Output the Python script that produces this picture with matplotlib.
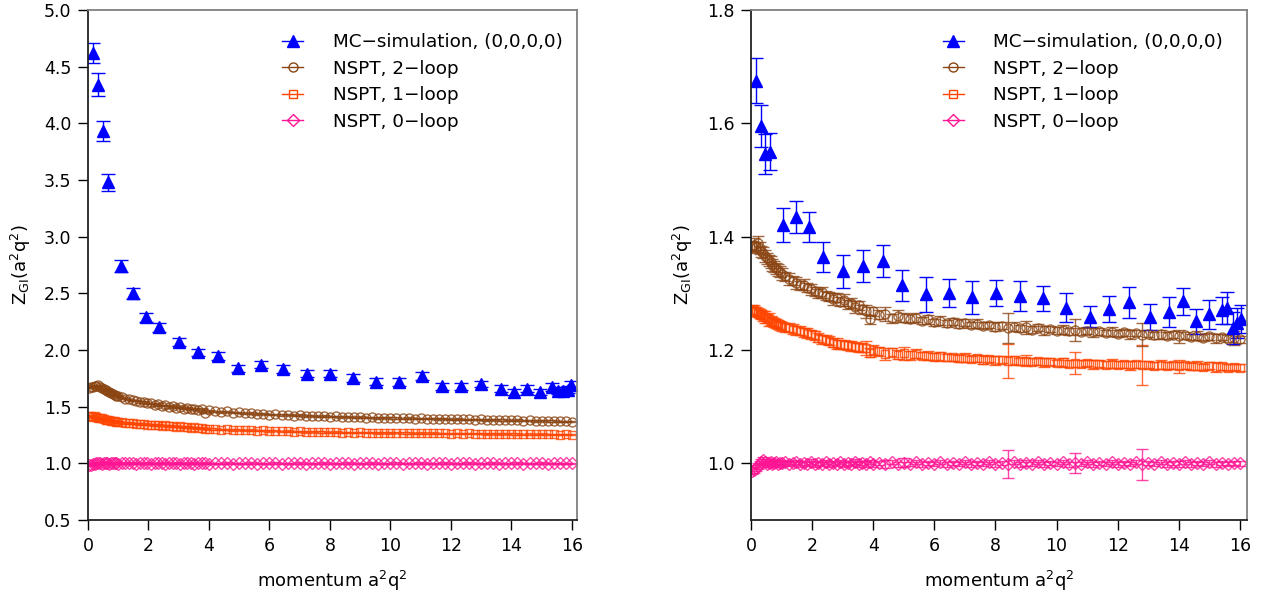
import matplotlib
matplotlib.use('Agg')
import matplotlib.pyplot as plt
from matplotlib.lines import Line2D

plt.rcParams['font.family'] = ['DejaVu Sans']
plt.rcParams['mathtext.fontset'] = 'dejavusans'
plt.rcParams['mathtext.default'] = 'regular'

# ---- données : MC (triangles) ----
mc_x_left = [0.18, 0.34, 0.49, 0.65, 1.08, 1.48, 1.93, 2.36, 3.01, 3.65, 4.31, 4.97, 5.71, 6.46, 7.23, 8.00,
             8.75, 9.52, 10.29, 11.05, 11.70, 12.35, 13.01, 13.65, 14.08, 14.52, 14.94, 15.35, 15.55, 15.71, 15.88, 15.97]
mc_y_left = [4.62, 4.34, 3.93, 3.48, 2.74, 2.50, 2.29, 2.20, 2.07, 1.98, 1.95, 1.84, 1.87, 1.83, 1.79, 1.79,
             1.75, 1.72, 1.72, 1.77, 1.68, 1.68, 1.70, 1.66, 1.63, 1.66, 1.63, 1.67, 1.64, 1.64, 1.65, 1.69]
mc_e_left = [0.09, 0.10, 0.09, 0.075, 0.055, 0.05, 0.04, 0.04, 0.035, 0.03, 0.035, 0.03, 0.03, 0.035, 0.03, 0.03,
             0.035, 0.03, 0.035, 0.035, 0.03, 0.03, 0.03, 0.03, 0.03, 0.03, 0.03, 0.035, 0.03, 0.03, 0.03, 0.04]

mc_x_right = [0.15, 0.32, 0.46, 0.62, 1.04, 1.47, 1.91, 2.35, 3.00, 3.65, 4.31, 4.95, 5.72, 6.48, 7.24, 8.01,
              8.79, 9.55, 10.31, 11.08, 11.73, 12.38, 13.04, 13.69, 14.13, 14.56, 15.00, 15.40, 15.59, 15.76, 15.89, 16.02]
mc_y_right = [1.675, 1.596, 1.546, 1.550, 1.421, 1.435, 1.417, 1.364, 1.339, 1.348, 1.357, 1.314, 1.298, 1.300, 1.293, 1.300,
              1.295, 1.291, 1.275, 1.259, 1.273, 1.284, 1.259, 1.267, 1.286, 1.251, 1.263, 1.270, 1.274, 1.239, 1.248, 1.255]
mc_e_right = [0.040, 0.037, 0.035, 0.033, 0.030, 0.028, 0.026, 0.026, 0.029, 0.028, 0.028, 0.028, 0.031, 0.025, 0.029, 0.023,
              0.026, 0.022, 0.026, 0.018, 0.023, 0.028, 0.023, 0.026, 0.024, 0.022, 0.026, 0.024, 0.028, 0.028, 0.026, 0.025]

# ---- données : NSPT ----
q2 = [0.04, 0.10, 0.16, 0.22, 0.28, 0.34, 0.40, 0.46, 0.52, 0.58,
      0.64, 0.70, 0.76, 0.82, 0.88, 0.94, 1.00, 1.12, 1.24, 1.36,
      1.48, 1.60, 1.72, 1.84, 1.96, 2.08, 2.20, 2.32, 2.44, 2.56,
      2.68, 2.80, 2.92, 3.04, 3.16, 3.28, 3.40, 3.52, 3.64, 3.76,
      3.88, 4.00, 4.20, 4.40, 4.60, 4.80, 5.00, 5.20, 5.40, 5.60,
      5.80, 6.00, 6.20, 6.40, 6.60, 6.80, 7.00, 7.20, 7.40, 7.60,
      7.80, 8.00, 8.20, 8.40, 8.60, 8.80, 9.00, 9.20, 9.40, 9.60,
      9.80, 10.00, 10.20, 10.40, 10.60, 10.80, 11.00, 11.20, 11.40, 11.60,
      11.80, 12.00, 12.20, 12.40, 12.60, 12.80, 13.00, 13.20, 13.40, 13.60,
      13.80, 14.00, 14.20, 14.40, 14.60, 14.80, 15.00, 15.20, 15.40, 15.60,
      15.80, 16.00]

loop2_left = [1.668, 1.676, 1.672, 1.684, 1.678, 1.688, 1.672, 1.662, 1.655, 1.648,
              1.640, 1.628, 1.622, 1.612, 1.606, 1.598, 1.590, 1.582, 1.570, 1.566,
              1.555, 1.552, 1.540, 1.545, 1.528, 1.530, 1.516, 1.522, 1.508, 1.512,
              1.498, 1.505, 1.490, 1.496, 1.483, 1.490, 1.476, 1.482, 1.470, 1.478,
              1.448, 1.468, 1.460, 1.452, 1.458, 1.446, 1.450, 1.440, 1.444, 1.436,
              1.438, 1.430, 1.433, 1.426, 1.429, 1.422, 1.425, 1.418, 1.421, 1.415,
              1.418, 1.412, 1.414, 1.409, 1.411, 1.406, 1.408, 1.403, 1.406, 1.401,
              1.403, 1.399, 1.401, 1.397, 1.399, 1.395, 1.397, 1.393, 1.395, 1.391,
              1.393, 1.389, 1.391, 1.387, 1.389, 1.385, 1.387, 1.383, 1.385, 1.381,
              1.383, 1.379, 1.381, 1.377, 1.379, 1.375, 1.377, 1.373, 1.375, 1.371,
              1.370, 1.367]
loop1_left = [1.414, 1.418, 1.412, 1.416, 1.406, 1.402, 1.396, 1.398, 1.390, 1.386,
              1.383, 1.378, 1.376, 1.372, 1.370, 1.366, 1.364, 1.361, 1.357, 1.356,
              1.352, 1.350, 1.346, 1.347, 1.341, 1.342, 1.337, 1.338, 1.333, 1.334,
              1.329, 1.330, 1.325, 1.326, 1.321, 1.320, 1.316, 1.318, 1.312, 1.313,
              1.306, 1.304, 1.302, 1.298, 1.300, 1.294, 1.296, 1.291, 1.293, 1.288,
              1.290, 1.285, 1.287, 1.283, 1.285, 1.280, 1.282, 1.278, 1.280, 1.276,
              1.278, 1.274, 1.276, 1.272, 1.274, 1.271, 1.273, 1.270, 1.272, 1.269,
              1.271, 1.268, 1.270, 1.267, 1.269, 1.266, 1.268, 1.265, 1.267, 1.264,
              1.266, 1.263, 1.265, 1.262, 1.264, 1.261, 1.263, 1.260, 1.262, 1.259,
              1.261, 1.258, 1.260, 1.257, 1.259, 1.256, 1.258, 1.255, 1.257, 1.254,
              1.256, 1.254]
loop0_left = [0.985, 0.988, 0.993, 0.997, 1.000, 1.004, 1.002, 0.998, 1.003, 0.999,
              1.002, 0.998, 1.001, 1.003, 0.999, 1.002, 0.998, 1.001, 1.003, 0.999,
              1.002, 0.998, 1.001, 0.999, 1.003, 0.998, 1.001, 0.999, 1.002, 0.998,
              1.001, 0.999, 1.002, 0.998, 1.001, 0.999, 1.003, 0.998, 1.001, 0.999,
              1.002, 0.998, 1.001, 0.999, 1.002, 0.998, 1.001, 0.999, 1.002, 0.998,
              1.001, 0.999, 1.002, 0.998, 1.001, 0.999, 1.002, 0.998, 1.001, 0.999,
              1.002, 0.998, 1.001, 0.999, 1.002, 0.998, 1.001, 0.999, 1.002, 0.998,
              1.001, 0.999, 1.002, 0.998, 1.001, 0.999, 1.002, 0.998, 1.001, 0.999,
              1.002, 0.998, 1.001, 0.999, 1.002, 0.998, 1.001, 0.999, 1.002, 0.998,
              1.001, 0.999, 1.002, 0.998, 1.001, 0.999, 1.002, 0.998, 1.001, 0.999,
              1.001, 1.000]
err_left = 0.006

loop2_right = [1.383, 1.386, 1.381, 1.389, 1.380, 1.374, 1.372, 1.366, 1.362, 1.358,
               1.355, 1.350, 1.347, 1.344, 1.341, 1.338, 1.334, 1.330, 1.325, 1.322,
               1.318, 1.314, 1.315, 1.310, 1.307, 1.304, 1.300, 1.302, 1.296, 1.294,
               1.290, 1.292, 1.285, 1.288, 1.281, 1.283, 1.276, 1.279, 1.272, 1.268,
               1.254, 1.268, 1.262, 1.264, 1.256, 1.260, 1.257, 1.255, 1.257, 1.252,
               1.254, 1.249, 1.252, 1.247, 1.250, 1.246, 1.248, 1.244, 1.246, 1.243,
               1.244, 1.241, 1.243, 1.239, 1.241, 1.238, 1.240, 1.236, 1.239, 1.235,
               1.237, 1.234, 1.236, 1.233, 1.235, 1.232, 1.234, 1.231, 1.233, 1.230,
               1.232, 1.229, 1.231, 1.228, 1.230, 1.227, 1.229, 1.226, 1.228, 1.225,
               1.227, 1.224, 1.226, 1.223, 1.225, 1.222, 1.224, 1.221, 1.223, 1.220,
               1.221, 1.219]
loop2_right_err = [0.010, 0.012, 0.010, 0.012, 0.010, 0.010, 0.010, 0.010, 0.010, 0.010,
                   0.010, 0.010, 0.010, 0.010, 0.010, 0.010, 0.010, 0.008, 0.010, 0.008,
                   0.010, 0.008, 0.010, 0.008, 0.010, 0.008, 0.008, 0.010, 0.008, 0.008,
                   0.010, 0.008, 0.008, 0.010, 0.008, 0.008, 0.010, 0.008, 0.008, 0.012,
                   0.008, 0.008, 0.008, 0.012, 0.008, 0.010, 0.008, 0.008, 0.008, 0.006,
                   0.008, 0.006, 0.008, 0.006, 0.006, 0.008, 0.006, 0.006, 0.008, 0.006,
                   0.006, 0.008, 0.006, 0.026, 0.008, 0.006, 0.012, 0.006, 0.006, 0.008,
                   0.006, 0.006, 0.008, 0.006, 0.020, 0.006, 0.006, 0.008, 0.006, 0.006,
                   0.008, 0.006, 0.006, 0.008, 0.006, 0.020, 0.006, 0.006, 0.008, 0.006,
                   0.006, 0.012, 0.006, 0.006, 0.008, 0.006, 0.006, 0.008, 0.006, 0.006,
                   0.012, 0.006]
loop1_right = [1.271, 1.270, 1.268, 1.266, 1.264, 1.262, 1.260, 1.258, 1.256, 1.254,
               1.252, 1.250, 1.248, 1.247, 1.245, 1.244, 1.242, 1.240, 1.239, 1.237,
               1.235, 1.234, 1.231, 1.230, 1.228, 1.226, 1.222, 1.219, 1.218, 1.216,
               1.213, 1.211, 1.210, 1.209, 1.208, 1.207, 1.206, 1.205, 1.204, 1.203,
               1.195, 1.200, 1.198, 1.193, 1.196, 1.192, 1.194, 1.191, 1.193, 1.190,
               1.190, 1.188, 1.189, 1.187, 1.187, 1.185, 1.186, 1.184, 1.185, 1.183,
               1.184, 1.182, 1.183, 1.180, 1.182, 1.180, 1.181, 1.179, 1.180, 1.178,
               1.179, 1.177, 1.178, 1.176, 1.177, 1.176, 1.177, 1.175, 1.176, 1.174,
               1.176, 1.174, 1.175, 1.173, 1.175, 1.173, 1.174, 1.172, 1.174, 1.172,
               1.173, 1.171, 1.173, 1.171, 1.172, 1.170, 1.172, 1.170, 1.171, 1.169,
               1.170, 1.169]
loop1_right_err = [0.008, 0.010, 0.008, 0.008, 0.008, 0.008, 0.008, 0.010, 0.008, 0.012,
                   0.008, 0.008, 0.008, 0.008, 0.008, 0.008, 0.008, 0.008, 0.008, 0.008,
                   0.008, 0.008, 0.008, 0.008, 0.008, 0.008, 0.008, 0.008, 0.008, 0.008,
                   0.008, 0.010, 0.008, 0.008, 0.008, 0.008, 0.008, 0.008, 0.008, 0.012,
                   0.008, 0.008, 0.008, 0.010, 0.008, 0.008, 0.012, 0.008, 0.008, 0.006,
                   0.008, 0.006, 0.008, 0.006, 0.006, 0.006, 0.008, 0.006, 0.006, 0.008,
                   0.006, 0.008, 0.006, 0.030, 0.008, 0.006, 0.010, 0.006, 0.006, 0.008,
                   0.006, 0.006, 0.008, 0.006, 0.020, 0.006, 0.006, 0.008, 0.006, 0.006,
                   0.008, 0.006, 0.006, 0.008, 0.006, 0.035, 0.006, 0.006, 0.008, 0.006,
                   0.006, 0.012, 0.006, 0.006, 0.008, 0.006, 0.006, 0.008, 0.006, 0.006,
                   0.006, 0.006]
loop0_right = [0.986, 0.988, 0.992, 0.995, 0.999, 1.003, 1.006, 1.002, 0.998, 1.001,
               1.003, 0.999, 1.001, 1.002, 0.998, 1.001, 1.000, 1.002, 0.999, 1.001,
               1.002, 0.998, 1.001, 0.999, 1.003, 0.998, 1.001, 0.999, 1.002, 0.998,
               1.001, 0.999, 1.002, 0.998, 1.001, 0.999, 1.003, 0.998, 1.001, 0.999,
               1.002, 0.998, 1.001, 0.999, 1.002, 0.998, 1.001, 0.999, 1.002, 0.998,
               1.001, 0.999, 1.002, 0.998, 1.001, 0.999, 1.002, 0.998, 1.001, 0.999,
               1.002, 0.998, 1.001, 0.999, 1.002, 0.998, 1.001, 0.999, 1.002, 0.998,
               1.001, 0.999, 1.002, 0.998, 1.001, 0.999, 1.002, 0.998, 1.001, 0.999,
               1.002, 0.998, 1.001, 0.999, 1.002, 0.998, 1.001, 0.999, 1.002, 0.998,
               1.001, 0.999, 1.002, 0.998, 1.001, 0.999, 1.002, 0.998, 1.001, 0.999,
               1.001, 1.000]
loop0_right_err = [0.005, 0.005, 0.005, 0.005, 0.005, 0.005, 0.005, 0.005, 0.004, 0.004,
                   0.004, 0.004, 0.004, 0.004, 0.004, 0.004, 0.004, 0.004, 0.004, 0.004,
                   0.004, 0.004, 0.004, 0.004, 0.004, 0.004, 0.004, 0.004, 0.004, 0.004,
                   0.004, 0.004, 0.004, 0.004, 0.004, 0.004, 0.004, 0.004, 0.004, 0.005,
                   0.004, 0.004, 0.004, 0.007, 0.004, 0.004, 0.008, 0.004, 0.004, 0.004,
                   0.004, 0.004, 0.004, 0.004, 0.004, 0.004, 0.004, 0.004, 0.004, 0.004,
                   0.004, 0.004, 0.004, 0.025, 0.004, 0.004, 0.005, 0.004, 0.004, 0.004,
                   0.004, 0.004, 0.004, 0.004, 0.018, 0.004, 0.004, 0.004, 0.004, 0.004,
                   0.004, 0.004, 0.004, 0.004, 0.004, 0.028, 0.004, 0.004, 0.004, 0.004,
                   0.004, 0.005, 0.004, 0.004, 0.004, 0.004, 0.004, 0.004, 0.004, 0.004,
                   0.004, 0.004]

labels = ['MC\u2212simulation, (0,0,0,0)', 'NSPT, 2\u2212loop', 'NSPT, 1\u2212loop', 'NSPT, 0\u2212loop']
c_mc, c_2, c_1, c_0 = '#0000FF', '#8B4513', '#FF4500', '#FF1493'

fig = plt.figure(figsize=(12.71, 6.01), dpi=100)
ax1 = fig.add_axes([88 / 1271, 1 - 520 / 601, 489 / 1271, 510 / 601])
ax2 = fig.add_axes([751 / 1271, 1 - 520 / 601, 496 / 1271, 510 / 601])


def nspt(ax, y, e, color, marker, ms):
    ax.errorbar(q2, y, yerr=e, fmt=marker, ms=ms, mfc='none', mec=color, mew=1.0,
                ecolor=color, elinewidth=1.0, capsize=4, alpha=0.8)


def mc(ax, x, y, e):
    ax.errorbar(x, y, yerr=e, fmt='^', ms=8, color=c_mc, ecolor=c_mc,
                elinewidth=1.0, capsize=5, capthick=1.0)


# panneau gauche
nspt(ax1, loop0_left, err_left, c_0, 'D', 6)
nspt(ax1, loop1_left, err_left, c_1, 's', 6)
nspt(ax1, loop2_left, err_left, c_2, 'o', 6.5)
mc(ax1, mc_x_left, mc_y_left, mc_e_left)
ax1.set_xlim(0, 16.17)
ax1.set_ylim(0.5, 5.0)
ax1.set_yticks([0.5, 1.0, 1.5, 2.0, 2.5, 3.0, 3.5, 4.0, 4.5, 5.0])

# panneau droit
nspt(ax2, loop0_right, loop0_right_err, c_0, 'D', 6)
nspt(ax2, loop1_right, loop1_right_err, c_1, 's', 6)
nspt(ax2, loop2_right, loop2_right_err, c_2, 'o', 6.5)
mc(ax2, mc_x_right, mc_y_right, mc_e_right)
ax2.set_xlim(0, 16.23)
ax2.set_ylim(0.9, 1.8)
ax2.set_yticks([1.0, 1.2, 1.4, 1.6, 1.8])

handles = [Line2D([], [], color=c_mc, marker='^', ms=8, lw=1),
           Line2D([], [], color=c_2, marker='o', ms=6.5, mfc='none', lw=1),
           Line2D([], [], color=c_1, marker='s', ms=6, mfc='none', lw=1),
           Line2D([], [], color=c_0, marker='D', ms=6, mfc='none', lw=1)]

for ax, lx in [(ax1, 0.397), (ax2, 0.387)]:
    ax.set_xticks(range(0, 17, 2))
    ax.yaxis.set_major_formatter(plt.FormatStrFormatter('%.1f'))
    ax.tick_params(direction='out', length=7, width=1, labelsize=12.5, pad=5)
    for s in ['left', 'bottom']:
        ax.spines[s].set_color('#222222')
        ax.spines[s].set_linewidth(1.3)
    for s in ['top', 'right']:
        ax.spines[s].set_color('#808080')
        ax.spines[s].set_linewidth(1.3)
    ax.set_xlabel(r'momentum $a^2q^2$', fontsize=13, labelpad=10)
    ax.set_ylabel(r'$Z_{GI}(a^2q^2)$', fontsize=13)
    ax.yaxis.set_label_coords(-0.113, 0.5)
    ax.legend(handles, labels, loc='upper left', bbox_to_anchor=(lx, 0.955),
              frameon=False, fontsize=13.2, handlelength=1.15, handletextpad=1.6,
              labelspacing=0.47, borderpad=0, borderaxespad=0)

plt.savefig('out.png', dpi=100)
